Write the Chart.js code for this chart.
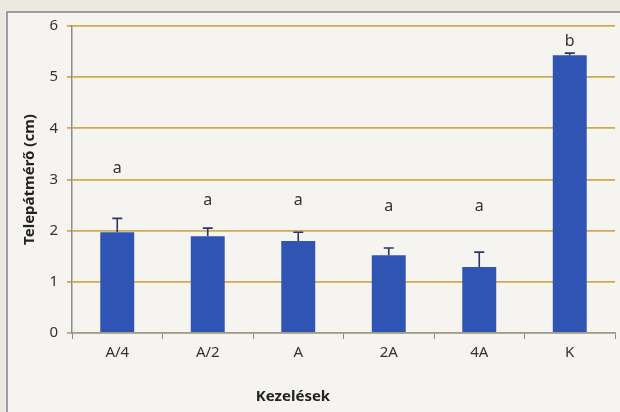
<!DOCTYPE html>
<html>
<head>
<meta charset="utf-8">
<script src="https://cdn.jsdelivr.net/npm/chart.js@4"></script>
<style>
html,body{margin:0;padding:0;background:#ece9e3;}
#wrap{width:620px;height:412px;}
</style>
</head>
<body>
<div id="wrap"><canvas id="c" width="620" height="412"></canvas></div>
<script>
const categories = ['A/4', 'A/2', 'A', '2A', '4A', 'K'];
const means = [1.97, 1.89, 1.80, 1.52, 1.29, 5.43];
const errors = [0.27, 0.16, 0.17, 0.14, 0.29, 0.04];
const letters = ['a', 'a', 'a', 'a', 'a', 'b'];
const letterY = [3.22, 2.60, 2.60, 2.47, 2.47, 5.70];
const yTicks = [0, 1, 2, 3, 4, 5, 6];
const xTitle = 'Kezelések';
const yTitle = 'Telepátmérő (cm)';

const FONT = '"Noto Sans", "Open Sans", sans-serif';
const GRID = '#d2aa4c';

const framePlugin = {
  id: 'frame',
  beforeDraw(chart) {
    const ctx = chart.ctx;
    ctx.save();
    ctx.fillStyle = '#ece9e3';
    ctx.fillRect(0, 0, chart.width, chart.height);
    ctx.fillStyle = '#f6f4f0';
    ctx.fillRect(8, 13, chart.width, chart.height);
    ctx.strokeStyle = '#9d9ca6';
    ctx.lineWidth = 2;
    ctx.beginPath();
    ctx.moveTo(7, chart.height);
    ctx.lineTo(7, 12);
    ctx.lineTo(chart.width, 12);
    ctx.stroke();
    ctx.restore();
  },
  afterDraw(chart) {
    const ctx = chart.ctx;
    ctx.save();
    ctx.fillStyle = '#222';
    ctx.font = 'bold 15px ' + FONT;
    ctx.textAlign = 'center';
    ctx.textBaseline = 'middle';
    ctx.fillText(xTitle, 293, 397);
    ctx.restore();
  }
};

const errPlugin = {
  id: 'errbars',
  afterDatasetsDraw(chart) {
    const ctx = chart.ctx;
    const meta = chart.getDatasetMeta(0);
    const ys = chart.scales.y;
    ctx.save();
    ctx.strokeStyle = '#2b3566';
    ctx.lineWidth = 1.6;
    meta.data.forEach((bar, i) => {
      const x = bar.x;
      const y0 = ys.getPixelForValue(means[i]);
      const y1 = ys.getPixelForValue(means[i] + errors[i]);
      ctx.beginPath();
      ctx.moveTo(x, y0);
      ctx.lineTo(x, y1);
      ctx.moveTo(x - 5, y1);
      ctx.lineTo(x + 5, y1);
      ctx.stroke();
    });
    ctx.fillStyle = '#333';
    ctx.font = '16px ' + FONT;
    ctx.textAlign = 'center';
    ctx.textBaseline = 'middle';
    meta.data.forEach((bar, i) => {
      ctx.fillText(letters[i], bar.x, ys.getPixelForValue(letterY[i]));
    });
    ctx.restore();
  }
};

new Chart(document.getElementById('c'), {
  type: 'bar',
  data: {
    labels: categories,
    datasets: [{
      data: means,
      backgroundColor: '#2f54b4',
      borderWidth: 0,
      barPercentage: 0.375,
      categoryPercentage: 1.0
    }]
  },
  options: {
    responsive: false,
    animation: false,
    devicePixelRatio: 1,
    layout: { padding: { left: 0, right: 5, top: 26, bottom: 0 } },
    plugins: { legend: { display: false }, tooltip: { enabled: false } },
    scales: {
      x: {
        grid: { display: true, drawOnChartArea: false, drawTicks: true, tickLength: 6, color: '#8a8a8a', offset: true },
        border: { display: true, color: '#9a9a9a', width: 1.5 },
        ticks: { color: '#333', font: { family: FONT, size: 15 }, padding: 5 },
        title: { display: false },
        afterFit(s) { s.height = 79; }
      },
      y: {
        min: 0, max: 6,
        afterBuildTicks(s) { s.ticks = yTicks.map(v => ({ value: v })); },
        grid: { color: GRID, lineWidth: 1.8, tickLength: 5 },
        border: { display: true, color: '#8c8c8c', width: 1.5 },
        ticks: { color: '#333', font: { family: FONT, size: 15 }, padding: 9 },
        title: { display: true, text: yTitle, color: '#222', font: { family: FONT, size: 15, weight: 'bold' }, padding: { top: 21, bottom: 4 } },
        afterFit(s) { s.width = 72; }
      }
    }
  },
  plugins: [framePlugin, errPlugin]
});
</script>
</body>
</html>
